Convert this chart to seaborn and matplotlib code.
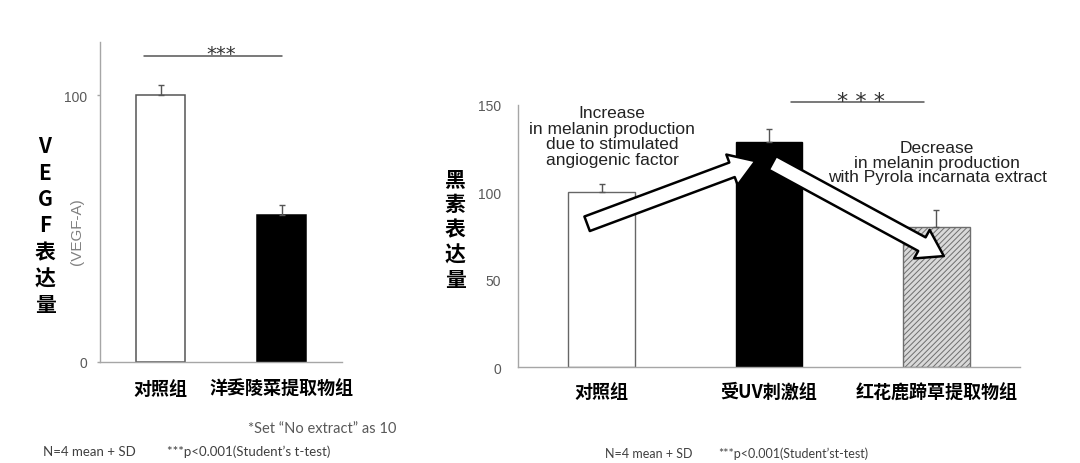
import matplotlib
matplotlib.use("Agg")
import matplotlib.pyplot as plt
import seaborn as sns
import pandas as pd
import numpy as np

# ---------------- data ----------------
left_categories = ["对照组", "洋委陵菜提取物组"]
left_means = [100, 55]
left_sd = [4, 4]
left_yticks = [0, 100]

right_categories = ["对照组", "受UV刺激组", "红花鹿蹄草提取物组"]
right_means = [100, 129, 80]
right_sd = [5, 7, 10]
right_yticks = [0, 50, 100, 150]

left_ylabel_chars = list("VEGF表达量")
left_ylabel_sub = "(VEGF-A)"
right_ylabel_chars = list("黑素表达量")
increase_text = "Increase\nin melanin production\ndue to stimulated\nangiogenic factor"
decrease_text = "Decrease\nin melanin production\nwith Pyrola incarnata extract"
note_set = "*Set \u201cNo extract\u201d as 10"
note_n = "N=4 mean + SD"
note_p_left = "***p<0.001(Student\u2019s t-test)"
note_p_right = "***p<0.001(Student\u2019st-test)"

# ---------------- style ----------------
sns.set_theme(style="white")
CJK = ["Noto Sans CJK SC", "DejaVu Sans"]
plt.rcParams["font.family"] = CJK
plt.rcParams["hatch.linewidth"] = 0.7

W, H = 1080, 464
fig = plt.figure(figsize=(W / 100, H / 100), dpi=100)

def fx(x):
    return x / W

def fy(y):
    return 1 - y / H

SPINE = "#a6a6a6"
TICKC = "#595959"
ERRC = "#555555"

def style_axes(ax):
    for s in ["top", "right"]:
        ax.spines[s].set_visible(False)
    for s in ["left", "bottom"]:
        ax.spines[s].set_color(SPINE)
        ax.spines[s].set_linewidth(1.0)
    ax.set_xlabel("")
    ax.set_ylabel("")

# ---------------- left panel ----------------
ax1 = fig.add_axes([fx(100), fy(363), 242 / W, 320 / H])
df1 = pd.DataFrame({"group": left_categories, "value": left_means})
sns.barplot(data=df1, x="group", y="value", hue="group",
            palette=["white", "black"], saturation=1, width=0.4,
            errorbar=None, legend=False, ax=ax1, zorder=2)
for p, ec in zip(ax1.patches, ["#555555", "black"]):
    p.set_edgecolor(ec)
    p.set_linewidth(1.1)
ax1.errorbar(x=np.arange(len(left_means)), y=left_means,
             yerr=[np.zeros(len(left_sd)), left_sd], fmt="none",
             ecolor=ERRC, elinewidth=1.0, capsize=2.5, capthick=1.0, zorder=3)
ax1.set_xlim(-0.5, len(left_categories) - 0.5)
ax1.set_ylim(0, 120)
ax1.set_yticks(left_yticks)
ax1.set_yticklabels([str(v) for v in left_yticks], fontfamily="Liberation Sans",
                    fontsize=10, color=TICKC)
ax1.set_xticks(range(len(left_categories)))
ax1.set_xticklabels(left_categories, fontsize=13, fontweight="bold", color="black")
ax1.set_xticks(np.arange(-0.5, len(left_categories), 1.0), minor=True)
ax1.tick_params(axis="x", which="major", length=0, pad=12)
ax1.tick_params(axis="x", which="minor", length=4, width=1, color=SPINE, direction="out")
ax1.tick_params(axis="y", which="major", length=2.5, width=1, color=SPINE, pad=7, left=True)
style_axes(ax1)

# significance
ax1.plot([-0.14, 1.0], [114.8, 114.8], color=ERRC, lw=1.1, clip_on=False, zorder=3)
ax1.text(0.5, 113.6, "***", ha="center", va="baseline", fontsize=14,
         color="#333333", fontfamily="DejaVu Sans")

# y labels
fig.text(fx(45), fy(226), "\n".join(left_ylabel_chars), ha="center", va="center",
         fontsize=15, fontweight="bold", linespacing=1.32, color="black")
fig.text(fx(77), fy(232), left_ylabel_sub, ha="center", va="center", rotation=90,
         fontsize=11, color="#808080", fontfamily="Liberation Sans")

# ---------------- right panel ----------------
ax2 = fig.add_axes([fx(518), fy(368), 502 / W, 262 / H])
df2 = pd.DataFrame({"group": right_categories, "value": right_means})
sns.barplot(data=df2, x="group", y="value", hue="group",
            palette=["white", "black", "#d9d9d9"], saturation=1, width=0.4,
            errorbar=None, legend=False, ax=ax2, zorder=2)
for p, ec, hatch in zip(ax2.patches, ["#666666", "black", "#6e6e6e"], [None, None, "//////"]):
    p.set_edgecolor(ec)
    p.set_linewidth(1.0)
    if hatch:
        p.set_hatch(hatch)
ax2.errorbar(x=np.arange(len(right_means)), y=right_means,
             yerr=[np.zeros(len(right_sd)), right_sd], fmt="none",
             ecolor=ERRC, elinewidth=1.0, capsize=2.5, capthick=1.0, zorder=3)
ax2.set_xlim(-0.5, len(right_categories) - 0.5)
ax2.set_ylim(0, 150)
ax2.set_yticks(right_yticks)
ax2.set_yticklabels([str(v) for v in right_yticks], fontfamily="Liberation Sans",
                    fontsize=10, color=TICKC)
ax2.set_xticks(range(len(right_categories)))
ax2.set_xticklabels(right_categories, fontsize=13, fontweight="bold", color="black")
ax2.tick_params(axis="x", length=0, pad=11)
ax2.tick_params(axis="y", length=0, pad=12)
style_axes(ax2)

# significance
ax2.plot([1.129, 1.925], [152, 152], color=ERRC, lw=1.1, clip_on=False, zorder=3)
ax2.text(1.55, 149, "* * *", ha="center", va="baseline", fontsize=16,
         color="#333333", fontfamily="DejaVu Sans", clip_on=False)

# arrows
arrow_style = "simple,head_length=1.0,head_width=1.3,tail_width=0.62"
for tail, head in [((-0.087, 82.0), (0.919, 117.9)), ((1.021, 116.8), (2.045, 63.5))]:
    ax2.annotate("", xy=head, xytext=tail, annotation_clip=False, zorder=5,
                 arrowprops=dict(arrowstyle=arrow_style, mutation_scale=18,
                                 fc="white", ec="black", lw=1.8,
                                 shrinkA=0, shrinkB=0))

ax2.text(0.063, 132.2, increase_text, ha="center", va="center", fontsize=12.5,
         linespacing=1.05, color="#222222", fontfamily="Liberation Sans", zorder=6)
ax2.text(2.004, 117.3, decrease_text, ha="center", va="center", fontsize=12.5,
         linespacing=0.98, color="#222222", fontfamily="Liberation Sans", zorder=6)

fig.text(fx(455), fy(230), "\n".join(right_ylabel_chars), ha="center", va="center",
         fontsize=15, fontweight="bold", linespacing=1.25, color="black")

# ---------------- notes ----------------
fig.text(fx(248), fy(429), note_set, ha="left", va="center", fontsize=10.5,
         color="#595959", fontfamily="Lato")
fig.text(fx(43), fy(452), note_n, ha="left", va="center", fontsize=9.5,
         color="#404040", fontfamily="Lato")
fig.text(fx(167), fy(452), note_p_left, ha="left", va="center", fontsize=9.5,
         color="#404040", fontfamily="Lato")
fig.text(fx(605), fy(454), note_n, ha="left", va="center", fontsize=9,
         color="#404040", fontfamily="Lato")
fig.text(fx(718), fy(454), note_p_right, ha="left", va="center", fontsize=9,
         color="#404040", fontfamily="Lato")

fig.savefig("out.png", dpi=100, facecolor="white")
